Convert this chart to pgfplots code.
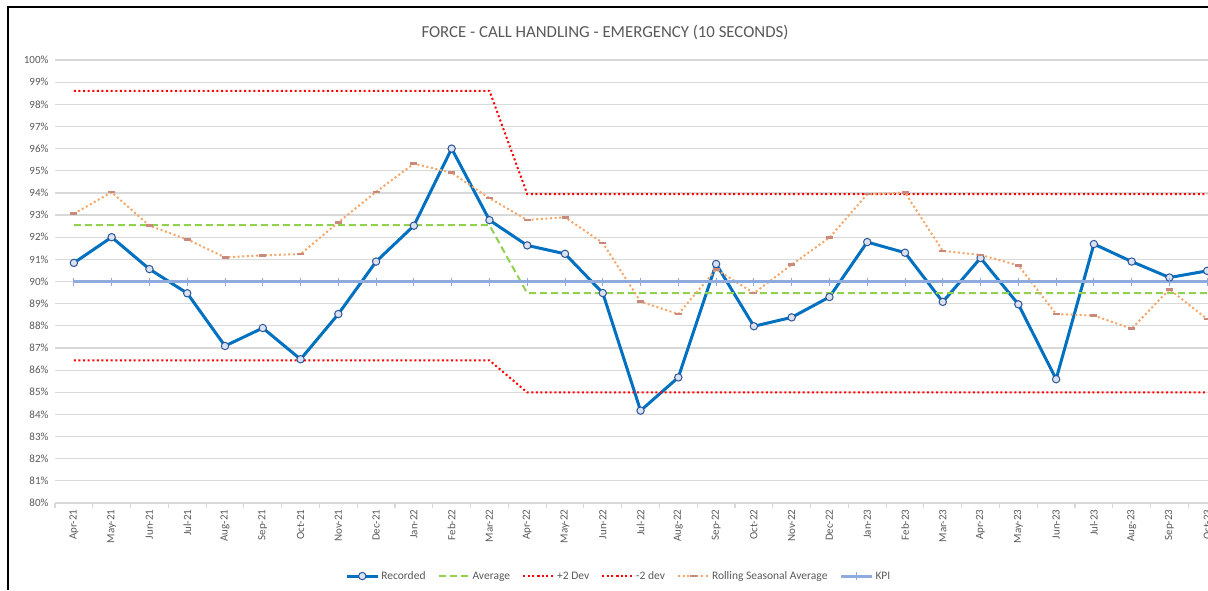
\documentclass[border=0pt]{standalone}
\usepackage{pgfplots}
\usepackage{pgfplotstable}
\pgfplotsset{compat=1.18}
\usepackage{fontspec}
\setmainfont{Carlito}
\definecolor{txt}{HTML}{595959}
\definecolor{gridc}{HTML}{D9D9D9}
\definecolor{rec}{HTML}{0070C0}
\definecolor{recfill}{HTML}{DAE3F3}
\definecolor{recdraw}{HTML}{2F5597}
\definecolor{avgc}{HTML}{92D050}
\definecolor{devc}{HTML}{FF0000}
\definecolor{rollc}{HTML}{F5A565}
\definecolor{rollm}{HTML}{C98A7E}
\definecolor{kpic}{HTML}{8FAADC}

\pgfplotstableread{
x rec avg up lo roll kpi
0 90.84 92.54 98.61 86.44 93.06 90
1 92.00 92.54 98.61 86.44 94.03 90
2 90.56 92.54 98.61 86.44 92.52 90
3 89.47 92.54 98.61 86.44 91.90 90
4 87.09 92.54 98.61 86.44 91.09 90
5 87.90 92.54 98.61 86.44 91.18 90
6 86.49 92.54 98.61 86.44 91.24 90
7 88.53 92.54 98.61 86.44 92.67 90
8 90.90 92.54 98.61 86.44 94.05 90
9 92.52 92.54 98.61 86.44 95.32 90
10 96.00 92.54 98.61 86.44 94.91 90
11 92.77 92.54 98.61 86.44 93.76 90
12 91.63 89.47 93.95 84.99 92.78 90
13 91.25 89.47 93.95 84.99 92.90 90
14 89.48 89.47 93.95 84.99 91.74 90
15 84.17 89.47 93.95 84.99 89.09 90
16 85.67 89.47 93.95 84.99 88.53 90
17 90.79 89.47 93.95 84.99 90.55 90
18 87.98 89.47 93.95 84.99 89.47 90
19 88.38 89.47 93.95 84.99 90.76 90
20 89.30 89.47 93.95 84.99 91.98 90
21 91.78 89.47 93.95 84.99 93.94 90
22 91.30 89.47 93.95 84.99 94.01 90
23 89.08 89.47 93.95 84.99 91.38 90
24 91.06 89.47 93.95 84.99 91.20 90
25 88.97 89.47 93.95 84.99 90.73 90
26 85.59 89.47 93.95 84.99 88.53 90
27 91.69 89.47 93.95 84.99 88.46 90
28 90.90 89.47 93.95 84.99 87.87 90
29 90.18 89.47 93.95 84.99 89.65 90
30 90.48 89.47 93.95 84.99 88.30 90
}\data

\begin{document}
\begin{tikzpicture}
\path[use as bounding box] (0pt,0pt) rectangle (1208pt,590pt);
\draw[line width=1.5pt, black] (8pt,0pt) -- (8pt,583pt) -- (1208pt,583pt);
\node[font=\fontsize{16.8}{20}\selectfont, text=txt] at (605pt,557pt) {FORCE - CALL HANDLING - EMERGENCY (10 SECONDS)};
\begin{axis}[
  at={(55pt,87pt)}, anchor=south west,
  scale only axis, width=1153pt, height=443pt,
  xmin=-0.5, xmax=30.02, ymin=80, ymax=100,
  axis lines*=left,
  y axis line style={draw=none},
  x axis line style={gridc, line width=1.2pt},
  ymajorgrids, grid style={gridc, line width=1.2pt},
  ytick={80,81,...,100},
  yticklabel={\pgfmathparse{int(round(\tick))}\pgfmathresult\%},
  yticklabel style={font=\fontsize{11}{13}\selectfont, text=txt, xshift=-3pt},
  xtick={0,1,...,30},
  xticklabels={Apr-21,May-21,Jun-21,Jul-21,Aug-21,Sep-21,Oct-21,Nov-21,Dec-21,Jan-22,Feb-22,Mar-22,Apr-22,May-22,Jun-22,Jul-22,Aug-22,Sep-22,Oct-22,Nov-22,Dec-22,Jan-23,Feb-23,Mar-23,Apr-23,May-23,Jun-23,Jul-23,Aug-23,Sep-23,Oct-23},
  xticklabel style={rotate=90, anchor=east, font=\fontsize{11}{13}\selectfont, text=txt, xshift=-3pt},
  major tick length=0pt,
  minor xtick={-0.5,0.5,...,29.5},
  minor tick length=5pt,
  tick align=outside,
  minor tick style={gridc, line width=1.2pt},
  clip=true,
  legend columns=6,
  legend style={at={(0.489,-0.165)}, anchor=center, draw=none, fill=none,
    font=\fontsize{11.5}{13}\selectfont, text=txt,
    /tikz/every even column/.append style={column sep=10pt},
    nodes={inner xsep=2pt}},
  legend image code/.code={\draw[mark repeat=2,mark phase=2] plot coordinates {(0pt,0pt) (15.5pt,0pt) (31pt,0pt)};},
]
\addplot[rec, line width=3pt, mark=*, mark size=3.7pt, mark options={fill=recfill, draw=recdraw, line width=1pt}] table[x=x,y=rec] {\data};
\addlegendentry{Recorded}
\addplot[avgc, line width=2pt, dash pattern=on 7pt off 4pt] table[x=x,y=avg] {\data};
\addlegendentry{Average}
\addplot[devc, line width=2pt, dash pattern=on 2pt off 2.6pt] table[x=x,y=up] {\data};
\addlegendentry{+2 Dev}
\addplot[devc, line width=2pt, dash pattern=on 2pt off 2.6pt] table[x=x,y=lo] {\data};
\addlegendentry{-2 dev}
\addplot[rollc, line width=2pt, dash pattern=on 2pt off 2.6pt, mark=-, mark size=3.5pt, mark options={rollm, solid, line width=2.5pt}] table[x=x,y=roll] {\data};
\addlegendentry{Rolling Seasonal Average}
\addplot[kpic, line width=3pt, mark=|, mark size=4pt, mark options={kpic, line width=1pt}] table[x=x,y=kpi] {\data};
\addlegendentry{KPI}
\end{axis}
\end{tikzpicture}
\end{document}
